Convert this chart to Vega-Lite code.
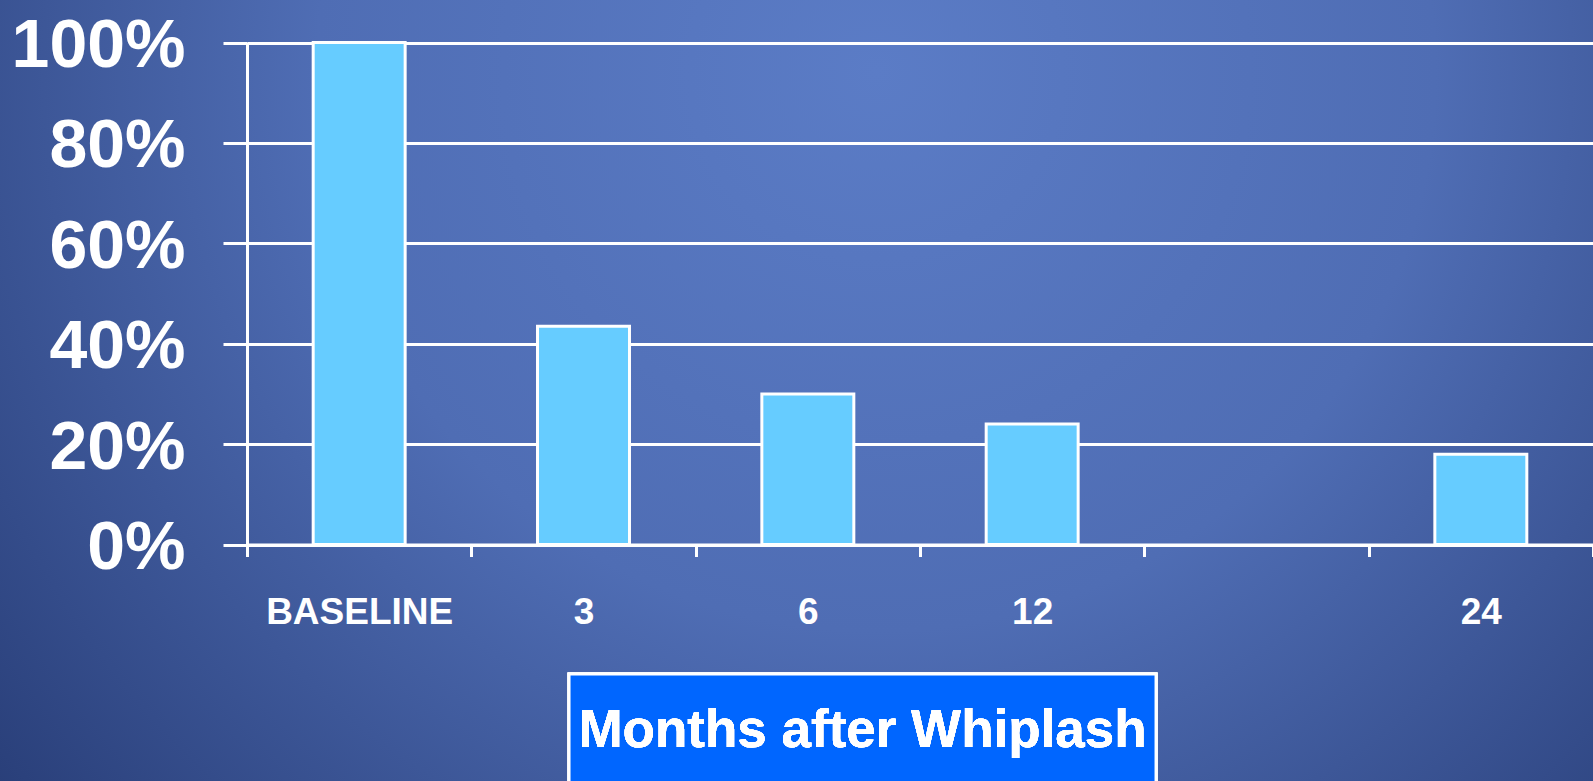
{
  "$schema": "https://vega.github.io/schema/vega-lite/v6.json",
  "width": 1593,
  "height": 781,
  "autosize": {"type": "none"},
  "padding": 0,
  "background": "#2c4380",
  "view": {
    "stroke": null,
    "fill": {
      "gradient": "radial",
      "x1": 0.55, "y1": 0.3, "r1": 0,
      "x2": 0.55, "y2": 0.3, "r2": 0.78,
      "stops": [
        {"offset": 0, "color": "#5b7cc6"},
        {"offset": 0.45, "color": "#4f6db4"},
        {"offset": 1, "color": "#22366e"}
      ]
    }
  },
  "data": {
    "values": [
      {"month": "BASELINE", "pct": 100},
      {"month": "3", "pct": 43.5},
      {"month": "6", "pct": 30},
      {"month": "12", "pct": 24},
      {"month": "24", "pct": 18}
    ]
  },
  "encoding": {
    "x": {
      "field": "month",
      "type": "nominal",
      "sort": null,
      "scale": {
        "domain": ["BASELINE", "3", "6", "12", " ", "24"],
        "range": [247, 1593],
        "paddingInner": 0,
        "paddingOuter": 0
      },
      "axis": {
        "title": null,
        "orient": "bottom",
        "offset": -236.5,
        "tickBand": "extent",
        "domainColor": "white",
        "domainWidth": 3,
        "tickColor": "white",
        "tickWidth": 3,
        "tickSize": 12,
        "grid": false,
        "labelColor": "white",
        "labelFont": "Liberation Sans, Arial, sans-serif",
        "labelFontWeight": "bold",
        "labelFontSize": 37,
        "labelBaseline": "alphabetic",
        "labelPadding": 67,
        "labelAngle": 0,
        "labelLimit": 400
      }
    }
  },
  "layer": [
    {
      "mark": {"type": "bar", "fill": "#66ccff", "stroke": "white", "strokeWidth": 3, "width": {"band": 0.41}},
      "encoding": {
        "y": {
          "field": "pct",
          "type": "quantitative",
          "scale": {"domain": [0, 100], "range": [544.5, 42.5], "nice": false, "zero": true},
          "axis": {
            "title": null,
            "orient": "left",
            "offset": -247,
            "values": [0, 20, 40, 60, 80, 100],
            "labelExpr": "datum.value + '%'",
            "domainColor": "white",
            "domainWidth": 3,
            "tickColor": "white",
            "tickWidth": 3,
            "tickSize": 24,
            "grid": true,
            "gridColor": "white",
            "gridWidth": 3,
            "gridOpacity": 1,
            "labelColor": "white",
            "labelFont": "Liberation Sans, Arial, sans-serif",
            "labelFontWeight": "bold",
            "labelFontSize": 68,
            "labelBaseline": "alphabetic",
            "labelOffset": 24,
            "labelPadding": 38,
            "labelLimit": 400,
            "labelFlush": false,
            "labelOverlap": false
          }
        }
      }
    },
    {
      "mark": {"type": "bar", "fill": "#0066ff", "stroke": "white", "strokeWidth": 3, "width": 587, "xOffset": 54.7, "clip": false},
      "encoding": {
        "x": {"datum": "6", "type": "nominal"},
        "y": {"datum": -25.8, "type": "quantitative"},
        "y2": {"datum": -62}
      }
    },
    {
      "mark": {"type": "text", "color": "white", "font": "Liberation Sans, Arial, sans-serif", "fontWeight": "bold", "fontSize": 53, "align": "center", "baseline": "alphabetic", "xOffset": 54.7},
      "encoding": {
        "x": {"datum": "6", "type": "nominal"},
        "y": {"datum": -40.4, "type": "quantitative"},
        "text": {"value": "Months after Whiplash"}
      }
    }
  ]
}
